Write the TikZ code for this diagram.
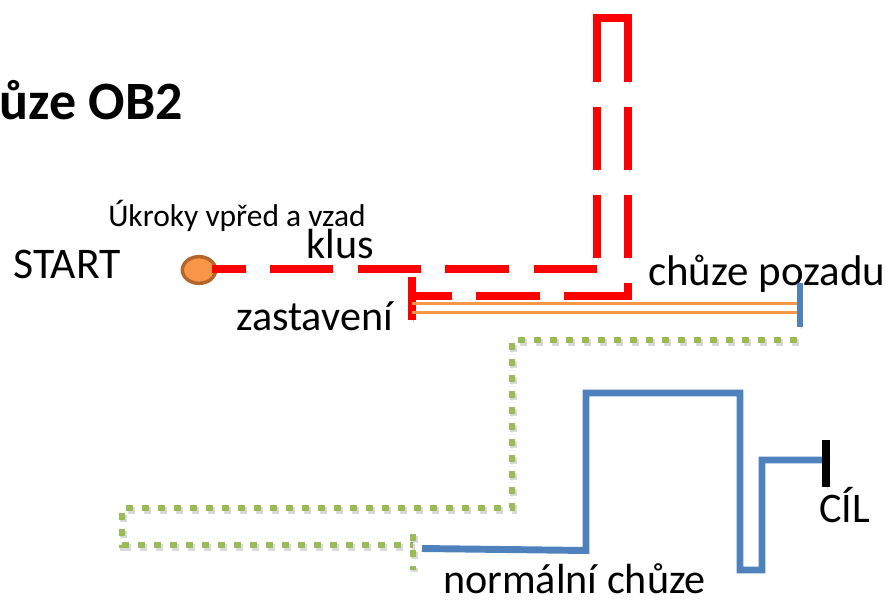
\documentclass[tikz,border=0pt]{standalone}
\usepackage{fontspec}
\setmainfont{Carlito}
\usetikzlibrary{shapes.geometric}
\definecolor{trackred}{HTML}{FF0000}
\definecolor{trackorange}{HTML}{F79646}
\definecolor{dotrim}{HTML}{B5652A}
\definecolor{trackblue}{HTML}{4F81BD}
\definecolor{trackgreen}{HTML}{9BBB59}
\begin{document}
\begin{tikzpicture}[x=0.75pt,y=-0.75pt,
  softshadow/.style={preaction={draw=black,opacity=0.18,
      transform canvas={shift={(1.2pt,-1.8pt)}}}},
  dotshadow/.style={preaction={draw=black,opacity=0.15,line width=5.2pt,
      dash pattern=on 5.2pt off 6.8pt,
      transform canvas={shift={(1.2pt,-1.8pt)}}}},
  redline/.style={draw=trackred,line width=6pt,line cap=butt,miter limit=10,softshadow},
  orangeline/.style={draw=trackorange,line width=2.6pt},
  blueline/.style={draw=trackblue,line width=5.2pt,miter limit=10,softshadow},
  greendots/.style={dotshadow,draw=trackgreen,line width=5.2pt,dash pattern=on 5.2pt off 6.8pt},
  biglbl/.style={inner sep=0pt,anchor=base west,font=\fontsize{31.6}{38}\selectfont},
  smalllbl/.style={inner sep=0pt,anchor=base west,font=\fontsize{23.6}{28}\selectfont}]
\useasboundingbox (0,0) rectangle (888,606);

% title, partly cut off on the left
\node[inner sep=0pt,anchor=base east,font=\bfseries\fontsize{40.5}{48}\selectfont]
  (title) at (183,120) {Chůze OB2};

% labels
\node[biglbl,font=\fontsize{32.8}{39}\selectfont] (start) at (13,278) {START};
\node[smalllbl] (steps) at (108,226) {Úkroky vpřed a vzad};
\node[biglbl] (trot) at (306,258) {klus};
\node[biglbl] (stop) at (236,330) {zastavení};
\node[biglbl,font=\fontsize{32.2}{39}\selectfont] (back) at (648,285) {chůze pozadu};
\node[biglbl] (goal) at (819,522) {CÍL};
\node[biglbl] (walk) at (443,593) {normální chůze};

% start marker
\node[ellipse,draw=dotrim,fill=trackorange,line width=2.6pt,inner sep=0pt,
  minimum width=25pt,minimum height=20pt] (dot) at (199,270) {};

% red dashed route: trot out, up and back
\foreach \a/\b in {212/246,270/333,358/421,445/509,534/597}
  \draw[redline] (\a,268.5) -- (\b,268.5);
\foreach \a/\b in {258/195,170/107}
  \draw[redline] (596.5,\a) -- (596.5,\b);
\draw[redline] (596.5,82) -- (596.5,18.5) -- (628,18.5) -- (628,82);
\foreach \a/\b in {107/170,195/258}
  \draw[redline] (628,\a) -- (628,\b);
\draw[redline] (628,283) -- (628,296) -- (564,296);
\foreach \a/\b in {540/476,452/415}
  \draw[redline] (\a,296) -- (\b,296);
\draw[redline] (412,277) -- (412,320);

% backwards walking lane
\draw[orangeline] (412,303.5) -- (800,303.5);
\draw[orangeline] (412,312.5) -- (800,312.5);
\draw[draw=trackblue,line width=5.2pt,softshadow] (800,283) -- (800,327);

% green dotted route
\draw[greendots] (797,340) -- (512,340) -- (512,508) -- (122,508) -- (122,545) -- (413,545);
\draw[greendots] (413,534) -- (413,570);

% normal walking route to the finish
\draw[blueline] (422,548.5) -- (586,550.5) -- (586,393) -- (740,393) -- (740,570)
  -- (762,570) -- (762,460) -- (823,460);
\draw[line width=6pt,softshadow] (826,440) -- (826,487);
\end{tikzpicture}
\end{document}
